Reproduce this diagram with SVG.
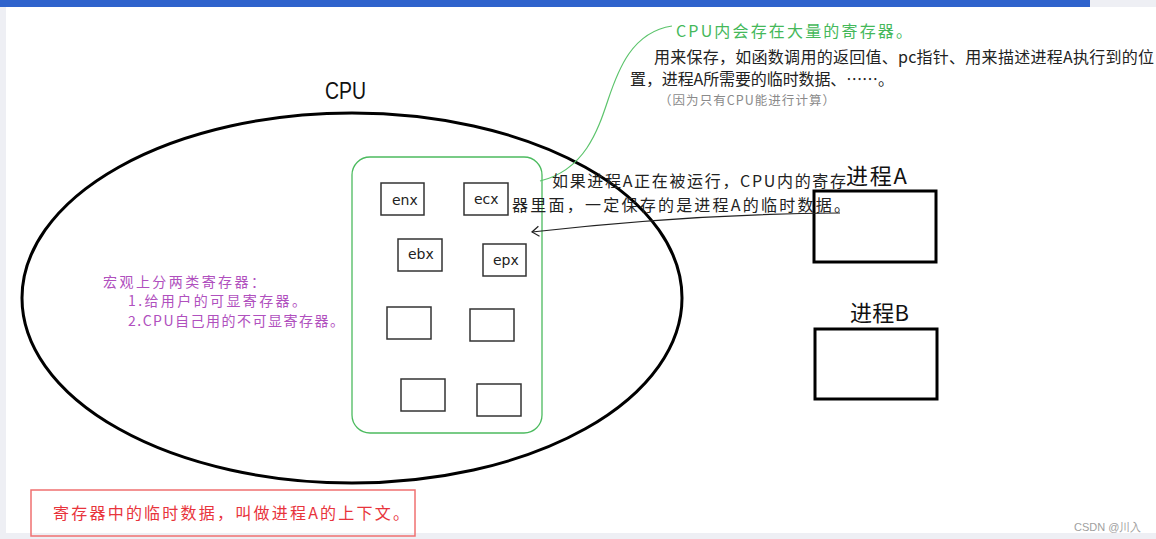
<svg xmlns="http://www.w3.org/2000/svg" width="1156" height="539" viewBox="0 0 1156 539">
<defs>
<style>
.cjk{font-family:"Noto Sans CJK SC","Noto Sans",sans-serif;}
.reg{fill:#fff;stroke:#333;stroke-width:1.5;}
.regt{font-family:"DejaVu Sans",sans-serif;font-size:14px;fill:#222;}
.proc{fill:#fff;stroke:#000;stroke-width:3;}
.blk{fill:#222;font-size:16px;}
.pur{fill:#b050be;font-size:14px;}
</style>
<marker id="open" viewBox="0 0 10 12" refX="8" refY="6" markerWidth="10" markerHeight="12" markerUnits="userSpaceOnUse" orient="auto">
<polyline points="1,1 8,6 1,11" fill="none" stroke="#222" stroke-width="1.2"/>
</marker>
</defs>
<rect x="0" y="0" width="1156" height="539" fill="#fff"/>
<rect x="0" y="0" width="6" height="539" fill="#eeeff4"/>
<rect x="0" y="533" width="1156" height="6" fill="#eeeff4"/>
<rect x="1090" y="0" width="66" height="7" fill="#eeeff4"/>
<rect x="0" y="0" width="1090" height="7" fill="#2f63cc"/>

<g id="cpu">
<ellipse cx="352" cy="298" rx="330" ry="185" fill="none" stroke="#000" stroke-width="3"/>
<text x="325" y="99" font-family="Liberation Sans, sans-serif" font-size="23" fill="#111" textLength="41" lengthAdjust="spacingAndGlyphs">CPU</text>
</g>

<g id="register-area">
<rect x="352" y="157" width="190" height="276" rx="18" fill="none" stroke="#4cbb5f" stroke-width="1.3"/>
</g>

<g id="reg-enx"><rect class="reg" x="381" y="183" width="43" height="32"/><text class="regt" x="392" y="205">enx</text></g>
<g id="reg-ecx"><rect class="reg" x="464" y="183" width="44" height="32"/><text class="regt" x="474" y="204">ecx</text></g>
<g id="reg-ebx"><rect class="reg" x="398" y="239" width="44" height="32"/><text class="regt" x="408" y="259">ebx</text></g>
<g id="reg-epx"><rect class="reg" x="483" y="244" width="43" height="32"/><text class="regt" x="493" y="265">epx</text></g>
<g id="reg-5"><rect class="reg" x="387" y="307" width="44" height="32"/></g>
<g id="reg-6"><rect class="reg" x="470" y="309" width="44" height="32"/></g>
<g id="reg-7"><rect class="reg" x="401" y="379" width="44" height="32"/></g>
<g id="reg-8"><rect class="reg" x="477" y="384" width="44" height="32"/></g>

<g id="process-a">
<rect class="proc" x="814" y="191" width="122" height="71"/>
<text class="cjk" x="846" y="184" font-size="22" fill="#111" textLength="61">进程A</text>
</g>
<g id="process-b">
<rect class="proc" x="815" y="329" width="122" height="70"/>
<text class="cjk" x="850" y="321" font-size="22" fill="#111" textLength="59">进程B</text>
</g>

<g id="connectors">
<path d="M540,181 C585,170 598,130 608,100 S632,32 672,26" fill="none" stroke="#5cc46c" stroke-width="1.2"/>
<path d="M840,213 Q690,214 532,232" fill="none" stroke="#222" stroke-width="1.2" marker-end="url(#open)"/>
</g>

<g id="note-cpu-registers" class="cjk">
<text x="676" y="37" font-size="16" fill="#45b85a" textLength="236">CPU内会存在大量的寄存器。</text>
<text class="blk" x="654" y="63" textLength="500">用来保存，如函数调用的返回值、pc指针、用来描述进程A执行到的位</text>
<text class="blk" x="630" y="85" textLength="264">置，进程A所需要的临时数据、……。</text>
<text x="659" y="105" font-size="12.5" fill="#8a8a8a" textLength="176">（因为只有CPU能进行计算）</text>
</g>

<g id="note-running" class="cjk">
<text class="blk" x="552" y="187" textLength="294">如果进程A正在被运行，CPU内的寄存</text>
<text class="blk" x="512" y="211" textLength="338">器里面，一定保存的是进程A的临时数据。</text>
</g>

<g id="note-types" class="cjk">
<text class="pur" x="103" y="287" textLength="162">宏观上分两类寄存器：</text>
<text class="pur" x="128" y="306" textLength="178">1.给用户的可显寄存器。</text>
<text class="pur" x="128" y="326" textLength="216">2.CPU自己用的不可显寄存器。</text>
</g>

<g id="note-context">
<rect x="31" y="490" width="384" height="46" fill="none" stroke="#f07070" stroke-width="1.5"/>
<text class="cjk" x="53" y="519" font-size="16" fill="#e8343c" textLength="356">寄存器中的临时数据，叫做进程A的上下文。</text>
</g>

<text x="1074" y="531" font-family="Liberation Sans, sans-serif" font-size="11" fill="#a0a0a0">CSDN @川入</text>
</svg>
